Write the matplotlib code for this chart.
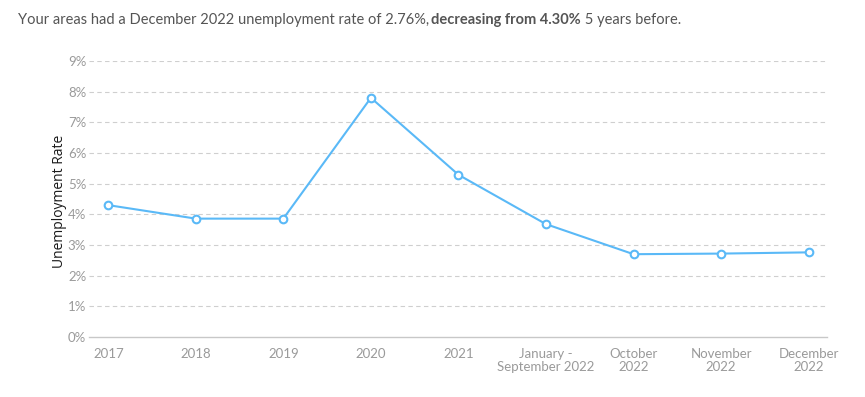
import matplotlib
matplotlib.use("Agg")
import matplotlib.pyplot as plt
from matplotlib.ticker import FuncFormatter

# data
categories = ["2017", "2018", "2019", "2020", "2021",
              "January -\nSeptember 2022", "October\n2022", "November\n2022", "December\n2022"]
rates = [4.30, 3.86, 3.86, 7.80, 5.29, 3.68, 2.70, 2.72, 2.76]
y_ticks = [0, 1, 2, 3, 4, 5, 6, 7, 8, 9]

LINE = "#5ab9f7"
GRID = "#cfcfcf"
TICK = "#9a9a9a"

plt.rcParams["font.family"] = ["Lato", "DejaVu Sans"]

fig = plt.figure(figsize=(8.65, 3.97), dpi=100)
ax = fig.add_axes([89 / 865, 1 - 337 / 397, (827 - 89) / 865, (337 - 61) / 397])

x = list(range(len(categories)))
ax.plot(x, rates, color=LINE, lw=1.5, marker="o", ms=5.5, mfc="white",
        mec=LINE, mew=1.5, zorder=3)

ax.set_xlim(-0.22, len(categories) - 1 + 0.21)
ax.set_ylim(0, 9)
ax.set_yticks(y_ticks)
ax.yaxis.set_major_formatter(FuncFormatter(lambda v, _: f"{v:.0f}%"))
ax.set_xticks(x)
ax.set_xticklabels(categories)

for v in y_ticks[1:]:
    ax.axhline(v, color=GRID, lw=0.8, dashes=(4, 3), zorder=1)
ax.spines[["top", "right", "left"]].set_visible(False)
ax.spines["bottom"].set_color("#c8c8c8")
ax.spines["bottom"].set_linewidth(1.0)
ax.tick_params(axis="y", length=0, labelsize=9.5, labelcolor=TICK, pad=2)
ax.tick_params(axis="x", length=0, labelsize=9.5, labelcolor=TICK, pad=8)
for lbl in ax.get_xticklabels():
    lbl.set_linespacing(1.05)

ax.set_ylabel("Unemployment Rate", fontsize=10, color="#1a1a1a",
              family=["Open Sans", "DejaVu Sans"])
ax.yaxis.set_label_coords(-0.030, 0.49)

# title with bold middle part
parts = [("Your areas had a December 2022 unemployment rate of 2.76%,", "normal", 2),
         ("decreasing from 4.30%", "bold", 0),
         (" 5 years before.", "normal", 0)]
renderer = fig.canvas.get_renderer()
xpos = 18
for txt, w, gap in parts:
    t = fig.text(xpos / 865, 1 - 20 / 397, txt, fontsize=10.5, fontweight=w,
                 color="#555555", va="center", ha="left")
    bb = t.get_window_extent(renderer=renderer)
    xpos += bb.width + gap

fig.savefig("out.png", dpi=100)
